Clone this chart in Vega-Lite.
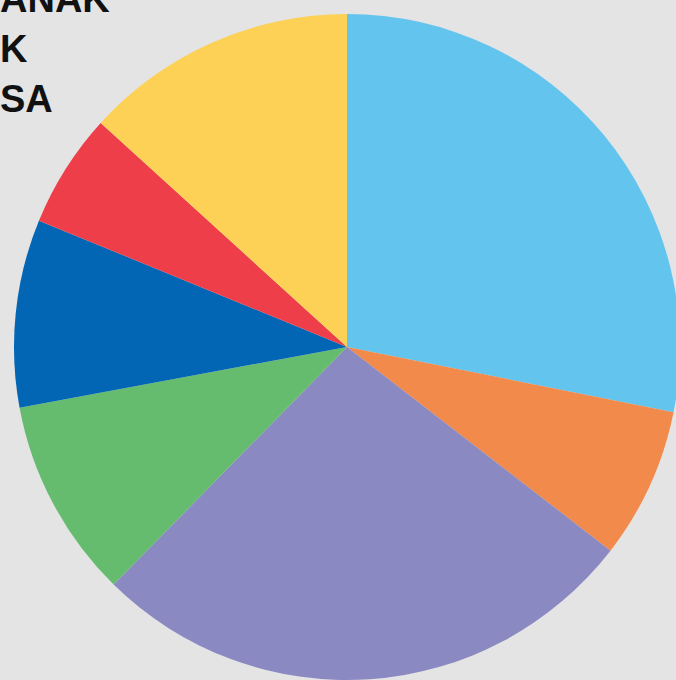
{
  "$schema": "https://vega.github.io/schema/vega-lite/v6.json",
  "width": 694,
  "height": 694,
  "autosize": {"type": "none"},
  "padding": 0,
  "background": "#e4e4e4",
  "config": {"view": {"stroke": null}},
  "title": {
    "text": ["ANAK", "K", "SA"],
    "anchor": "start",
    "frame": "group",
    "orient": "top",
    "baseline": "top",
    "offset": -120,
    "fontSize": 38,
    "font": "Liberation Sans",
    "fontWeight": "bold",
    "lineHeight": 50,
    "color": "#111111",
    "dx": 0
  },
  "data": {
    "values": [
      {"i": 1, "k": "a", "v": 101.3},
      {"i": 2, "k": "b", "v": 26.4},
      {"i": 3, "k": "c", "v": 96.8},
      {"i": 4, "k": "d", "v": 35.0},
      {"i": 5, "k": "e", "v": 32.8},
      {"i": 6, "k": "f", "v": 20.0},
      {"i": 7, "k": "g", "v": 47.7}
    ]
  },
  "mark": {"type": "arc", "outerRadius": 333},
  "encoding": {
    "theta": {"field": "v", "type": "quantitative", "stack": true},
    "order": {"field": "i", "type": "quantitative"},
    "color": {
      "field": "k",
      "type": "nominal",
      "legend": null,
      "scale": {
        "domain": ["a", "b", "c", "d", "e", "f", "g"],
        "range": ["#63C5EE", "#F28A4C", "#8B89C2", "#65BC6E", "#0266B4", "#EE3E4A", "#FDD056"]
      }
    }
  }
}
